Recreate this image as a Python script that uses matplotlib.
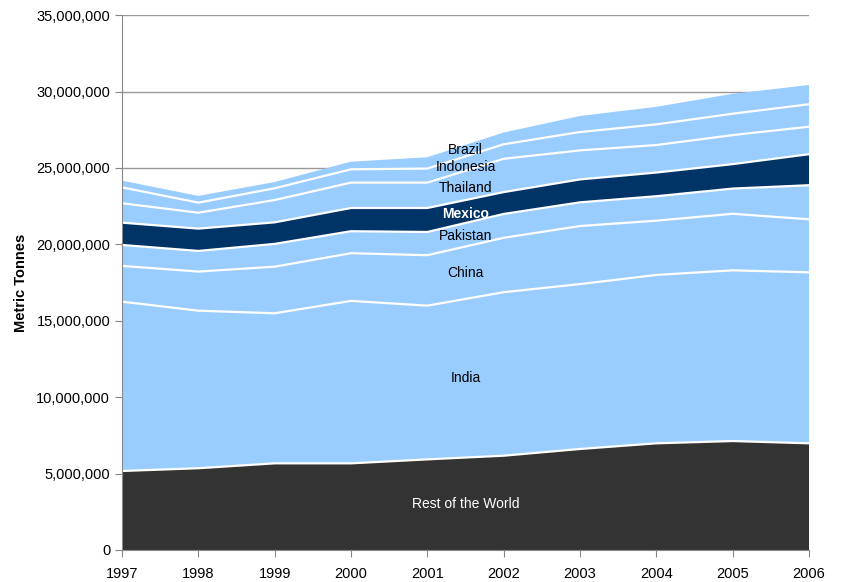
import numpy as np
import matplotlib.pyplot as plt
from matplotlib.ticker import FuncFormatter

years = [1997, 1998, 1999, 2000, 2001, 2002, 2003, 2004, 2005, 2006]

# metric tonnes per country
rest_of_world = [5170000, 5350000, 5670000, 5670000, 5930000, 6170000, 6610000, 6980000, 7130000, 6980000]
india = [11080000, 10310000, 9820000, 10630000, 10060000, 10700000, 10790000, 11020000, 11170000, 11190000]
china = [2340000, 2560000, 3050000, 3120000, 3300000, 3560000, 3800000, 3550000, 3700000, 3470000]
pakistan = [1370000, 1350000, 1490000, 1440000, 1520000, 1560000, 1550000, 1600000, 1650000, 2230000]
mexico = [1460000, 1460000, 1410000, 1520000, 1570000, 1430000, 1500000, 1550000, 1600000, 2030000]
thailand = [1270000, 1040000, 1460000, 1660000, 1660000, 2180000, 1900000, 1800000, 1900000, 1800000]
indonesia = [1040000, 660000, 770000, 870000, 920000, 950000, 1200000, 1350000, 1400000, 1470000]
brazil = [440000, 440000, 410000, 500000, 740000, 770000, 1050000, 1150000, 1300000, 1260000]

series = [rest_of_world, india, china, pakistan, mexico, thailand, indonesia, brazil]

dark = "#333333"
light = "#99CCFF"
navy = "#003366"
colors = [dark, light, light, light, navy, light, light, light]

plt.rcParams["font.family"] = ["Liberation Sans", "DejaVu Sans"]

fig = plt.figure(figsize=(8.41, 5.82), dpi=100)
ax = fig.add_axes([0.1451, 0.055, 0.8169, 0.919])

ax.stackplot(years, *series, colors=colors, linewidth=0, zorder=2)

# white separators between the layers
tops = np.cumsum(np.array(series, dtype=float), axis=0)
for top in tops[:-1]:
    ax.plot(years, top, color="white", linewidth=1.6, zorder=3)

ax.set_xlim(1997, 2006)
ax.set_ylim(0, 35000000)
ax.set_xticks(years)
ax.set_yticks(np.arange(0, 35000001, 5000000))
ax.yaxis.set_major_formatter(FuncFormatter(lambda v, p: f"{int(v):,}"))
ax.grid(axis="y", color="#999999", linewidth=1.0, zorder=0)
ax.set_axisbelow(True)

for s in ["top", "right"]:
    ax.spines[s].set_visible(False)
for s in ["left", "bottom"]:
    ax.spines[s].set_color("#888888")
    ax.spines[s].set_zorder(4)
ax.tick_params(axis="both", colors="#888888", length=5, labelcolor="black", labelsize=10.5)
ax.tick_params(axis="x", pad=7)

ax.set_ylabel("Metric Tonnes", fontsize=10.5, fontweight="bold", labelpad=6)

# labels in the middle of the chart
lx = 2001.5
ax.text(lx, 3000000, "Rest of the World", color="white", ha="center", va="center", fontsize=10)
ax.text(lx, 11250000, "India", color="black", ha="center", va="center", fontsize=10)
ax.text(lx, 18100000, "China", color="black", ha="center", va="center", fontsize=10)
ax.text(lx, 20550000, "Pakistan", color="black", ha="center", va="center", fontsize=10)
ax.text(lx, 22000000, "Mexico", color="white", ha="center", va="center", fontsize=10, fontweight="bold")
ax.text(lx, 23700000, "Thailand", color="black", ha="center", va="center", fontsize=10)
ax.text(lx, 25070000, "Indonesia", color="black", ha="center", va="center", fontsize=10)
ax.text(lx, 26200000, "Brazil", color="black", ha="center", va="center", fontsize=10)

fig.savefig("out.png", dpi=100)
